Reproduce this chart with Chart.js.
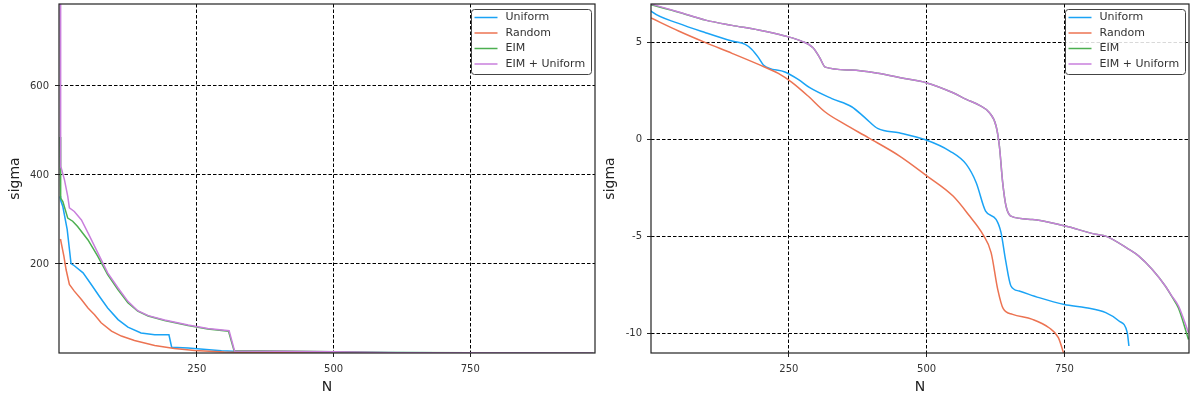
<!DOCTYPE html>
<html>
<head>
<meta charset="utf-8">
<script src="https://cdn.jsdelivr.net/npm/chart.js@4.4.1/dist/chart.umd.min.js"></script>
<style>
  body { margin: 0; background: #fff; }
  #wrap { position: relative; width: 1190px; height: 399px; }
  canvas { position: absolute; top: 0; }
  #leftChart { left: 0; }
  #rightChart { left: 597px; }
</style>
</head>
<body>
<div id="wrap">
  <canvas id="leftChart" width="597" height="399"></canvas>
  <canvas id="rightChart" width="593" height="399"></canvas>
</div>
<script>
const seriesNames = ['Uniform', 'Random', 'EIM', 'EIM + Uniform'];
const seriesColors = ['#1aa3f5', '#ec7352', '#4caf50', '#c97fdc'];

const xTicks = [250, 500, 750];
const sigmaTicks = [200, 400, 600];
const logSigmaTicks = [-10, -5, 0, 5];

// left panel: sigma
const leftUniformN     = [0, 1, 5, 13, 20, 26, 42, 57, 72, 87, 106, 124, 148, 173, 199, 204, 234, 295, 350, 500, 700, 867];
const leftUniformSigma = [352, 343, 329, 277, 201, 196, 180, 154, 127, 101, 75, 58, 45, 41, 41, 13, 11, 5, 2, 1, 0.3, 0];

const leftRandomN     = [0, 1, 7, 11, 17, 26, 39, 51, 63, 75, 94, 112, 136, 173, 209, 246, 300, 400, 550, 750];
const leftRandomSigma = [256, 254, 217, 187, 154, 139, 120, 101, 86, 68, 49, 38, 28, 17, 10, 5.6, 2, 0.8, 0.2, 0];

const leftEimN     = [0, 1, 5, 14, 23, 32, 51, 69, 87, 106, 124, 142, 161, 191, 234, 270, 308, 318, 400, 500, 600, 750, 975];
const leftEimSigma = [485, 348, 340, 303, 296, 284, 254, 217, 176, 142, 113, 94, 83, 73, 62, 54, 49, 5.6, 4.5, 3, 1, 0.4, 0];

const leftEimUniN     = [0, 1, 2, 8, 14, 17, 26, 39, 51, 69, 87, 106, 124, 142, 161, 191, 234, 270, 309, 319, 400, 500, 616, 975];
const leftEimUniSigma = [784, 418, 416, 389, 352, 326, 318, 299, 270, 225, 180, 146, 116, 95, 84, 74, 63, 55, 50, 4.5, 4, 2.8, 0.5, 0];

// right panel: log sigma
const rightUniformN     = [0, 2, 50, 99, 147, 171, 183, 195, 204, 243, 267, 288, 328, 364, 388, 412, 450, 498, 542, 572, 590, 607, 626, 635, 643, 653, 668, 704, 750, 789, 825, 849, 864, 867];
const rightUniformSigma = [6.62, 6.56, 5.97, 5.49, 5.06, 4.89, 4.63, 4.21, 3.83, 3.47, 3.09, 2.66, 2.10, 1.68, 1.12, 0.55, 0.34, -0.02, -0.60, -1.29, -2.23, -3.69, -4.12, -4.80, -6.18, -7.55, -7.81, -8.15, -8.50, -8.67, -8.92, -9.35, -9.95, -10.64];

const rightRandomN     = [0, 50, 99, 147, 195, 231, 255, 285, 316, 352, 394, 451, 499, 548, 578, 602, 617, 629, 639, 656, 692, 722, 739, 750];
const rightRandomSigma = [6.25, 5.58, 4.98, 4.43, 3.86, 3.40, 2.95, 2.23, 1.41, 0.77, 0.09, -0.86, -1.85, -2.92, -3.95, -4.89, -5.83, -7.72, -8.72, -9.01, -9.27, -9.70, -10.21, -11.15];

const rightEimN     = [0, 50, 99, 147, 195, 243, 273, 294, 306, 316, 364, 412, 460, 499, 548, 572, 596, 614, 626, 632, 638, 644, 653, 692, 750, 807, 825, 867, 885, 909, 933, 945, 957, 975];
const rightEimSigma = [6.93, 6.55, 6.14, 5.87, 5.63, 5.32, 5.06, 4.72, 4.21, 3.72, 3.57, 3.40, 3.13, 2.92, 2.40, 2.06, 1.75, 1.37, 0.69, -0.34, -2.23, -3.43, -3.95, -4.12, -4.45, -4.89, -4.98, -5.66, -6.01, -6.69, -7.55, -8.10, -8.70, -10.3];

const rightEimUniN     = [0, 50, 99, 147, 195, 243, 273, 294, 306, 316, 364, 412, 460, 499, 548, 572, 596, 614, 626, 632, 638, 644, 653, 692, 750, 807, 825, 867, 885, 909, 933, 945, 957, 975];
const rightEimUniSigma = [6.97, 6.56, 6.14, 5.87, 5.63, 5.32, 5.06, 4.72, 4.21, 3.72, 3.57, 3.40, 3.13, 2.92, 2.40, 2.06, 1.75, 1.37, 0.69, -0.34, -2.23, -3.43, -3.95, -4.12, -4.45, -4.89, -4.98, -5.66, -6.01, -6.69, -7.55, -8.07, -8.58, -9.95];

Chart.defaults.font.family = "'DejaVu Sans', sans-serif";
Chart.defaults.color = '#333';

function toPoints(xs, ys) {
    return xs.map((x, i) => ({ x: x, y: ys[i] }));
}

function makeDatasets(pairs, smooth) {
    // matplotlib draws the last series on top; Chart.js draws lower order on top
    return pairs.map((p, i) => ({
        label: seriesNames[i],
        data: toPoints(p[0], p[1]),
        borderColor: seriesColors[i],
        borderWidth: 1.5,
        pointRadius: 0,
        fill: false,
        order: pairs.length - 1 - i,
        cubicInterpolationMode: smooth ? 'monotone' : 'default',
        tension: 0
    }));
}

// frame round the plot and the legend box in the upper right corner
const frameAndLegend = {
    id: 'frameAndLegend',
    afterDatasetsDraw(chart) {
        const { ctx, chartArea: a } = chart;
        ctx.save();
        ctx.strokeStyle = '#222';
        ctx.lineWidth = 1.2;
        ctx.strokeRect(a.left, a.top, a.right - a.left, a.bottom - a.top);

        const w = 120, h = 65;
        const bx = Math.round(a.right - 4 - w) + 0.5, by = Math.round(a.top + 5) + 0.5;
        ctx.beginPath();
        ctx.roundRect(bx, by, w, h, 3);
        ctx.fillStyle = 'rgba(255,255,255,0.85)';
        ctx.fill();
        ctx.strokeStyle = '#444';
        ctx.lineWidth = 1;
        ctx.stroke();

        ctx.font = "11px 'DejaVu Sans'";
        ctx.textBaseline = 'middle';
        chart.data.datasets.forEach((ds, i) => {
            const y = by + 8 + i * 15.5;
            ctx.strokeStyle = ds.borderColor;
            ctx.lineWidth = 1.5;
            ctx.beginPath();
            ctx.moveTo(bx + 3, y);
            ctx.lineTo(bx + 26, y);
            ctx.stroke();
            ctx.fillStyle = '#333';
            ctx.fillText(ds.label, bx + 34, y);
        });
        ctx.restore();
    }
};

function createPanel(canvasId, datasets, opts) {
    const canvas = document.getElementById(canvasId);
    return new Chart(canvas, {
        type: 'line',
        data: { datasets: datasets },
        options: {
            responsive: false,
            animation: false,
            devicePixelRatio: 1,
            layout: { padding: { top: 4, right: opts.padRight, bottom: 0, left: 0 } },
            plugins: { legend: { display: false }, tooltip: { enabled: false } },
            scales: {
                x: {
                    type: 'linear',
                    min: opts.xMin,
                    max: opts.xMax,
                    afterBuildTicks: axis => { axis.ticks = xTicks.map(v => ({ value: v })); },
                    afterFit: axis => {
                        axis.height = 46;
                        axis.paddingLeft = 0;
                        axis.paddingRight = 0;
                    },
                    grid: { color: '#000', lineWidth: 1, tickLength: 4, tickColor: '#222', tickBorderDash: [] },
                    border: { display: false, dash: [3.5, 2] },
                    ticks: { font: { size: 10 }, color: '#333', padding: 6, maxRotation: 0 },
                    title: { display: true, text: 'N', font: { size: 14 }, color: '#222', padding: { top: 0, bottom: 3 } }
                },
                y: {
                    type: 'linear',
                    min: opts.yMin,
                    max: opts.yMax,
                    afterBuildTicks: axis => { axis.ticks = opts.yTicks.map(v => ({ value: v })); },
                    afterFit: axis => {
                        axis.width = opts.yWidth;
                        axis.paddingTop = 0;
                        axis.paddingBottom = 0;
                    },
                    grid: { color: '#000', lineWidth: 1, tickLength: 4, tickColor: '#222', tickBorderDash: [] },
                    border: { display: false, dash: [3.5, 2] },
                    ticks: { font: { size: 10 }, color: '#333', padding: opts.tickPad },
                    title: { display: true, text: 'sigma', font: { size: 14 }, color: '#222', padding: { top: opts.titlePad, bottom: 0 } }
                }
            }
        },
        plugins: [frameAndLegend]
    });
}

createPanel('leftChart', makeDatasets([
    [leftUniformN, leftUniformSigma],
    [leftRandomN, leftRandomSigma],
    [leftEimN, leftEimSigma],
    [leftEimUniN, leftEimUniSigma]
], false), { xMin: -2, xMax: 978, yMin: 0, yMax: 784, yTicks: sigmaTicks, yWidth: 59, padRight: 2, tickPad: 6, titlePad: 7 });

createPanel('rightChart', makeDatasets([
    [rightUniformN, rightUniformSigma],
    [rightRandomN, rightRandomSigma],
    [rightEimN, rightEimSigma],
    [rightEimUniN, rightEimUniSigma]
], true), { xMin: 0, xMax: 976, yMin: -11, yMax: 6.97, yTicks: logSigmaTicks, yWidth: 54, padRight: 1, tickPad: 5, titlePad: 5 });
</script>
</body>
</html>
